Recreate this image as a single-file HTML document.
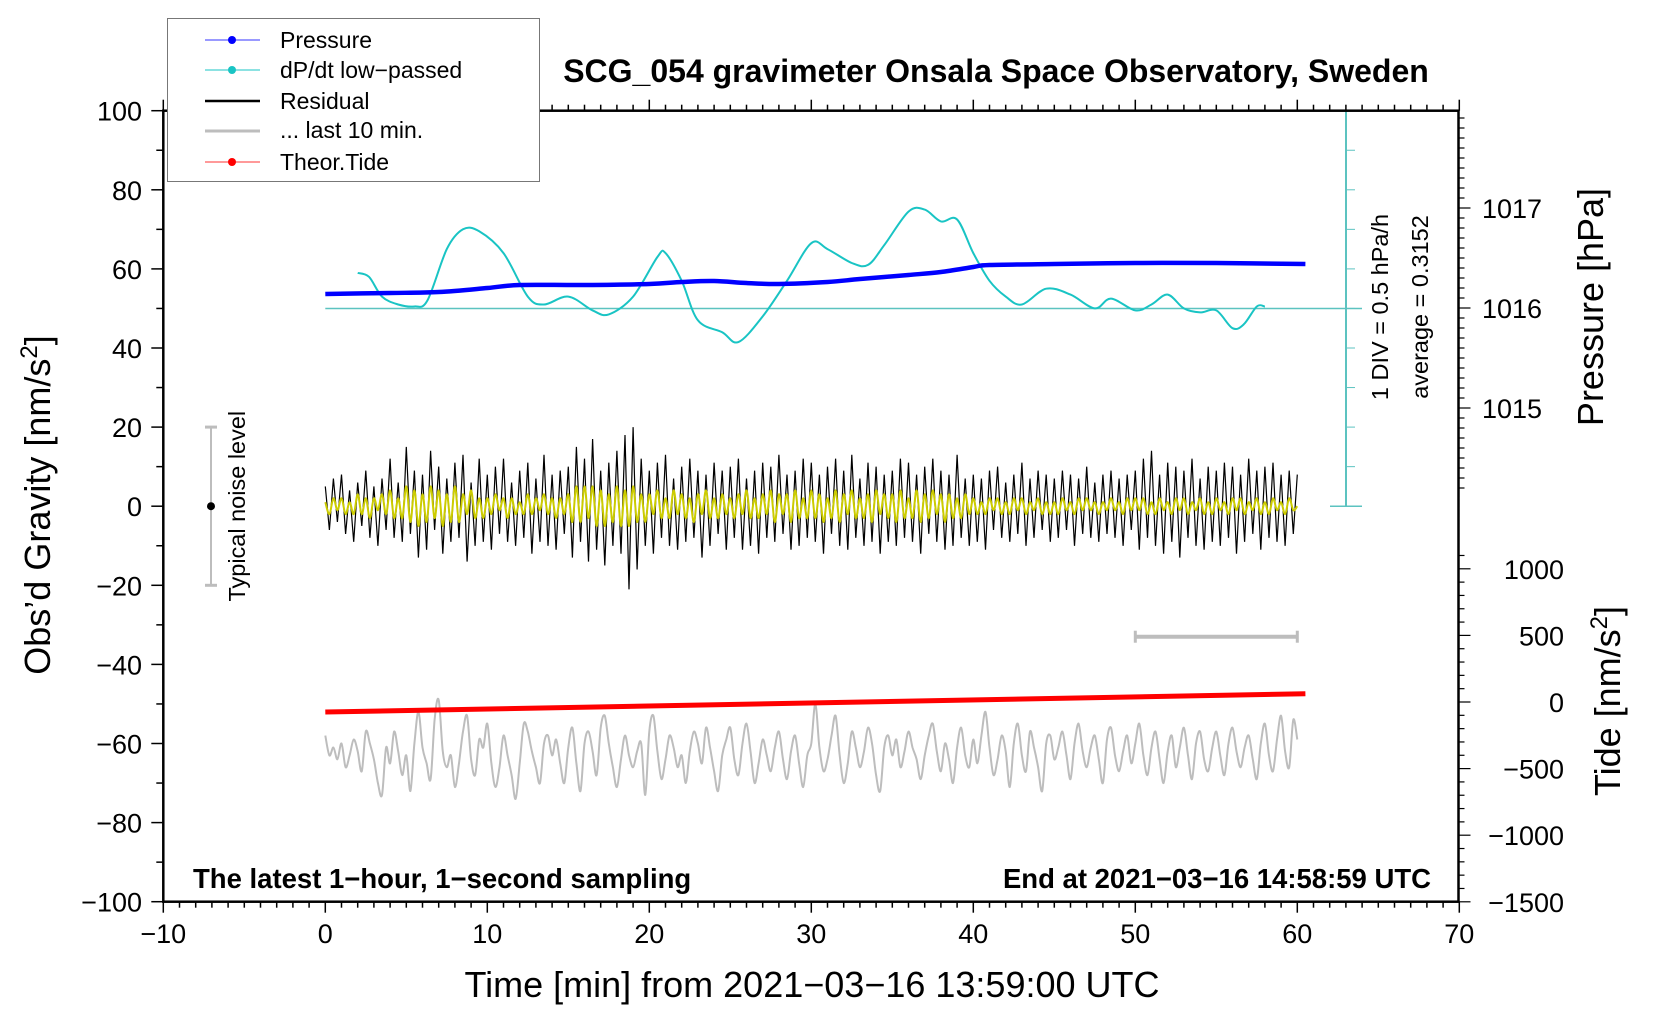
<!DOCTYPE html>
<html><head><meta charset="utf-8"><style>
html,body{margin:0;padding:0;background:#fff;}
svg{display:block;font-family:"Liberation Sans",sans-serif;}
</style></head><body>
<svg id="chart" width="1660" height="1020" viewBox="0 0 1660 1020"></svg>
<script>
// ---- data ----
const pressTimes = [0, 4, 7, 10, 12, 16, 20, 22, 24, 26, 28, 31, 33, 36, 38, 40, 41, 45, 50, 55, 60.5];
const pressHpa = [1016.14, 1016.15, 1016.16, 1016.20, 1016.23, 1016.23, 1016.24, 1016.26, 1016.27, 1016.25, 1016.24, 1016.26, 1016.29, 1016.33, 1016.36, 1016.41, 1016.43, 1016.44, 1016.45, 1016.45, 1016.44];
const dpTimes = [2,2.7,3.5,4.5,5.5,6.3,7.5,8.5,9.5,11,12.5,13.5,15,16.5,17.5,19,20.5,21,22,23,24.5,25.5,27,28.5,30,31,32.5,33.5,34.5,36,37,38,39,40,41,42,43,44.5,46,47.5,48.5,50,51,52,53,54,55,56,56.7,57.5,58];
const dpVals = [59,58,53,51,50.5,52,65,70,69.5,64,53,51,53,49.5,48.5,53,63,64,57,47,44,41.5,48,57,66.5,65,61.5,61,66,74.5,75,72,72.5,64,57,53,51,55,53.5,50,52.5,49.5,51,53.5,50,49,49.5,45,46,50.5,50.5];
const resid = [5,-6,7,-4,8,-7,4,-9,6,-5,9,-8,5,-10,7,-6,12,-8,6,-9,
15,-7,9,-13,8,-11,14,-6,10,-12,7,-9,11,-8,13,-14,6,-10,12,-9,
8,-11,10,-7,12,-9,6,-10,9,-8,11,-12,7,-9,13,-10,8,-11,9,-7,
10,-13,15,-9,12,-14,17,-11,9,-15,11,-10,14,-12,18,-21,20,-16,12,-10,
9,-12,11,-8,13,-10,7,-11,10,-9,12,-8,9,-13,8,-10,11,-7,9,-11,
10,-8,12,-11,7,-10,9,-12,11,-8,10,-9,13,-7,8,-11,9,-10,12,-8,
11,-9,8,-12,10,-7,12,-10,9,-11,13,-8,7,-10,11,-9,10,-12,8,-9,
9,-10,12,-8,11,-9,8,-12,10,-7,12,-9,9,-11,8,-10,13,-8,7,-10,
8,-9,7,-11,9,-6,10,-8,6,-9,8,-7,11,-10,7,-8,9,-6,8,-9,
7,-8,9,-6,8,-10,7,-7,10,-8,6,-9,8,-7,9,-8,7,-10,8,-6,
9,-11,12,-8,14,-10,8,-12,11,-9,10,-13,9,-8,12,-10,7,-11,10,-9,
9,-10,11,-8,10,-12,8,-9,12,-7,9,-11,10,-8,11,-9,8,-10,9,-7,8];
const smooth = [1,-2,2,-1,2,-2,1,-2,3,-2,2,-3,2,-1,3,-2,4,-3,2,-3,
5,-4,4,-5,3,-4,5,-3,4,-5,3,-4,5,-4,3,-2,4,-3,2,-3,
2,-2,3,-1,2,-3,2,-2,1,-2,3,-2,2,-1,3,-2,2,-3,2,-2,
3,-4,5,-4,5,-3,5,-5,4,-5,3,-4,5,-5,4,-5,5,-4,3,-4,
3,-2,4,-3,2,-3,4,-2,3,-3,2,-4,3,-2,4,-3,2,-3,3,-2,
2,-3,3,-2,4,-3,2,-3,3,-2,4,-4,3,-2,3,-4,4,-3,2,-3,
4,-3,3,-4,2,-3,4,-4,3,-2,4,-3,2,-3,3,-4,4,-2,3,-3,
3,-4,4,-3,2,-3,4,-4,3,-3,4,-2,3,-4,3,-3,2,-3,3,-2,
2,-2,1,-2,2,-1,2,-2,1,-2,2,-1,2,-2,1,-1,2,-2,1,-2,
1,-2,2,-1,1,-2,2,-1,2,-1,1,-2,1,-1,2,-1,1,-2,2,-1,
2,-1,2,-2,1,-2,2,-1,1,-2,2,-1,2,-2,1,-1,2,-2,1,-2,
2,-1,1,-2,2,-1,2,-2,1,-1,2,-2,1,-2,2,-1,1,-2,2,-1,0];
const last10 = [-58,-63,-61,-64,-60,-66,-63,-59,-62,-67,-57,-60,-64,-70,-73,-61,-65,-57,-62,-68,
-63,-72,-60,-52,-61,-65,-69,-54,-49,-62,-66,-63,-71,-65,-57,-53,-64,-68,-59,-61,
-55,-65,-71,-66,-58,-63,-68,-74,-65,-55,-57,-62,-66,-70,-60,-58,-63,-59,-65,-70,
-61,-56,-65,-72,-60,-57,-62,-68,-56,-53,-60,-66,-71,-64,-58,-63,-66,-62,-60,-73,
-57,-53,-62,-69,-64,-58,-61,-66,-63,-70,-62,-57,-60,-65,-56,-61,-67,-72,-63,-59,
-56,-64,-68,-60,-55,-62,-70,-65,-59,-63,-67,-61,-57,-64,-69,-62,-58,-65,-71,-63,
-60,-50,-61,-67,-64,-58,-53,-63,-70,-65,-57,-61,-66,-62,-56,-60,-68,-72,-61,-58,
-63,-59,-66,-62,-57,-61,-64,-69,-63,-58,-55,-62,-67,-60,-64,-70,-61,-56,-63,-66,
-59,-65,-58,-52,-61,-68,-64,-58,-62,-71,-60,-55,-63,-67,-57,-61,-66,-72,-60,-58,
-64,-61,-57,-63,-69,-60,-55,-62,-66,-61,-58,-64,-70,-59,-56,-63,-67,-62,-58,-65,
-60,-55,-63,-68,-61,-57,-64,-70,-62,-58,-66,-61,-56,-63,-69,-60,-57,-64,-67,-61,
-57,-63,-68,-60,-56,-62,-66,-61,-58,-64,-69,-60,-55,-63,-67,-59,-53,-62,-66,-54,-59];
const tideTimes = [0, 60.5];
const tideVals = [-75, 62];
const xTicks = [-10,0,10,20,30,40,50,60,70];
const yTicks = [-100,-80,-60,-40,-20,0,20,40,60,80,100];
const pTicks = [1015,1016,1017];
const tTicks = [-1500,-1000,-500,0,500,1000];

// ---- scales ----
const X = t => 325.3 + 16.2 * t;
const Y = v => 506.2 - 3.955 * v;
const P = h => 308 - 100 * (h - 1016);
const T = n => 702 - 0.1332 * n;
const L = 163.3, R = 1458.5, TOP = 110.7, BOT = 901.7;

const svg = document.getElementById('chart');
const NS = 'http://www.w3.org/2000/svg';
function mk(tag, attrs, parent) {
  const e = document.createElementNS(NS, tag);
  for (const k in attrs) e.setAttribute(k, attrs[k]);
  (parent || svg).appendChild(e);
  return e;
}
function txt(s, attrs, parent) { const e = mk('text', attrs, parent); e.textContent = s; return e; }

const gS = mk('g', {});



let e = mk('line', {x1: X(0), x2: 1362, y1: Y(50), y2: Y(50), stroke: '#5cc3c0', 'stroke-width': 1.5}, gS);



e = mk('line', {x1: 1346, x2: 1346, y1: TOP, y2: Y(0), stroke: '#5cc3c0', 'stroke-width': 2}, gS);


[TOP, Y(0)].forEach(y => mk('line', {x1: 1330, x2: 1362, y1: y, y2: y, stroke: '#5cc3c0', 'stroke-width': 1.5}, gS));
for (let v = 10; v < 100; v += 10) mk('line', {x1: 1346, x2: 1355, y1: Y(v), y2: Y(v), stroke: '#5cc3c0', 'stroke-width': 1}, gS);

function pathFrom(xs, ys) { return xs.map((x, i) => (i ? 'L' : 'M') + x.toFixed(1) + ' ' + ys[i].toFixed(1)).join(' '); }
function smoothPath(xs, ys) {
  let d = 'M' + xs[0].toFixed(1) + ' ' + ys[0].toFixed(1);
  for (let i = 0; i < xs.length - 1; i++) {
    const i0 = Math.max(0, i - 1), i3 = Math.min(xs.length - 1, i + 2);
    const c1x = xs[i] + (xs[i + 1] - xs[i0]) / 6, c1y = ys[i] + (ys[i + 1] - ys[i0]) / 6;
    const c2x = xs[i + 1] - (xs[i3] - xs[i]) / 6, c2y = ys[i + 1] - (ys[i3] - ys[i]) / 6;
    d += ` C${c1x.toFixed(1)} ${c1y.toFixed(1)} ${c2x.toFixed(1)} ${c2y.toFixed(1)} ${xs[i + 1].toFixed(1)} ${ys[i + 1].toFixed(1)}`;
  }
  return d;
}
const stepT = i => i * 0.25;

e = mk('path', {d: smoothPath(last10.map((v, i) => X(stepT(i))), last10.map(Y)), fill: 'none', stroke: '#bdbdbd', 'stroke-width': 2}, gS);



e = mk('path', {d: pathFrom(tideTimes.map(X), tideVals.map(T)), fill: 'none', stroke: '#ff0000', 'stroke-width': 5}, gS);



e = mk('path', {d: pathFrom(resid.map((v, i) => X(stepT(i))), resid.map(Y)), fill: 'none', stroke: '#000', 'stroke-width': 1.2}, gS);


e = mk('path', {d: smoothPath(smooth.map((v, i) => X(stepT(i))), smooth.map(Y)), fill: 'none', stroke: '#cccc00', 'stroke-width': 2}, gS);



e = mk('path', {d: smoothPath(dpTimes.map(X), dpVals.map(Y)), fill: 'none', stroke: '#19c4c4', 'stroke-width': 2}, gS);



e = mk('path', {d: smoothPath(pressTimes.map(X), pressHpa.map(P)), fill: 'none', stroke: '#0000ff', 'stroke-width': 4.5}, gS);



e = mk('g', {}, gS);


mk('line', {x1: X(50), x2: X(60), y1: Y(-33), y2: Y(-33), stroke: '#bdbdbd', 'stroke-width': 4}, e);
[50, 60].forEach(t => mk('line', {x1: X(t), x2: X(t), y1: Y(-33) - 6, y2: Y(-33) + 6, stroke: '#bdbdbd', 'stroke-width': 3}, e));

e = mk('g', {});


mk('line', {x1: 211, x2: 211, y1: Y(20), y2: Y(-20), stroke: '#bdbdbd', 'stroke-width': 2}, e);
[20, -20].forEach(v => mk('line', {x1: 205, x2: 217, y1: Y(v), y2: Y(v), stroke: '#bdbdbd', 'stroke-width': 3}, e));
mk('circle', {cx: 211, cy: Y(0), r: 4, fill: '#000'}, e);
e = txt('Typical noise level', {x: 0, y: 0, transform: `translate(245,${Y(0)}) rotate(-90)`, 'text-anchor': 'middle', 'font-size': 23.5});



e = mk('rect', {x: L, y: TOP, width: R - L, height: BOT - TOP, fill: 'none', stroke: '#000', 'stroke-width': 2.5});



const gx = mk('g', {});


for (let t = -10; t <= 70; t++) {
  const maj = t % 10 === 0, len = maj ? 11 : 6;
  mk('line', {x1: X(t), x2: X(t), y1: BOT, y2: BOT + len, stroke: '#000', 'stroke-width': 1.5}, gx);
  mk('line', {x1: X(t), x2: X(t), y1: TOP, y2: TOP - len, stroke: '#000', 'stroke-width': 1.5}, gx);
}
xTicks.forEach(t => {
  const lab = txt(String(t).replace('-', '\u2212'), {x: X(t), y: 943, 'text-anchor': 'middle', 'font-size': 27}, gx);
  
  
});

const gy = mk('g', {});


for (let v = -100; v <= 100; v += 10) {
  const len = v % 20 === 0 ? 12 : 7;
  mk('line', {x1: L - len, x2: L, y1: Y(v), y2: Y(v), stroke: '#000', 'stroke-width': 1.5}, gy);
}
yTicks.forEach(v => {
  const lab = txt(String(v).replace('-', '\u2212'), {x: 142, y: Y(v) + 10, 'text-anchor': 'end', 'font-size': 27}, gy);
  
  
});

const gp = mk('g', {});


for (let k = 0; k <= 38; k++) {
  const h = 1014.2 + k * 0.1, y = P(h);
  if (y < TOP - 1) continue;
  const maj = Math.abs(h - Math.round(h)) < 0.01;
  mk('line', {x1: R, x2: R + (maj ? 12 : 6), y1: y, y2: y, stroke: '#000', 'stroke-width': 1.2}, gp);
}
pTicks.forEach(h => {
  const lab = txt(String(h), {x: 1482, y: P(h) + 10, 'font-size': 27}, gp);
  
  
});

const gt = mk('g', {});


for (let n = -1500; n <= 1100; n += 100) {
  const maj = n % 500 === 0;
  mk('line', {x1: R, x2: R + (maj ? 12 : 6), y1: T(n), y2: T(n), stroke: '#000', 'stroke-width': 1.2}, gt);
}
tTicks.forEach(n => {
  const lab = txt(String(n).replace('-', '\u2212'), {x: 1564, y: T(n) + 10, 'text-anchor': 'end', 'font-size': 27}, gt);
  
  
});
</script>

<script>
(function(){
const svg = document.getElementById('chart');
const NS = 'http://www.w3.org/2000/svg';
function t(s, a, name) {
  const e = document.createElementNS(NS, 'text');
  for (const k in a) e.setAttribute(k, a[k]);
  e.innerHTML = s;
  
  
  svg.appendChild(e);
  return e;
}
t('SCG_054 gravimeter Onsala Space Observatory, Sweden', {x: 996, y: 82, 'text-anchor': 'middle', 'font-size': 32, 'font-weight': 'bold'}, 'chart-title');
t('Obs’d Gravity [nm/s<tspan dy="-13" font-size="24">2</tspan><tspan dy="13">]</tspan>', {transform: 'translate(50,505) rotate(-90)', 'text-anchor': 'middle', 'font-size': 36}, 'y-axis-title');
t('Time [min] from 2021−03−16 13:59:00 UTC', {x: 812, y: 997, 'text-anchor': 'middle', 'font-size': 36}, 'x-axis-title');
t('Pressure [hPa]', {transform: 'translate(1603,307) rotate(-90)', 'text-anchor': 'middle', 'font-size': 36}, 'pressure-axis-title');
t('Tide [nm/s<tspan dy="-13" font-size="24">2</tspan><tspan dy="13">]</tspan>', {transform: 'translate(1620,701) rotate(-90)', 'text-anchor': 'middle', 'font-size': 36}, 'tide-axis-title');
t('1 DIV = 0.5 hPa/h', {transform: 'translate(1388,307) rotate(-90)', 'text-anchor': 'middle', 'font-size': 23.5}, 'dpdt-scale-label');
t('average = 0.3152', {transform: 'translate(1428,307) rotate(-90)', 'text-anchor': 'middle', 'font-size': 23.5}, 'average-label');
t('The latest 1−hour, 1−second sampling', {x: 193, y: 888, 'font-size': 27.5, 'font-weight': 'bold'}, 'sampling-note');
t('End at 2021−03−16 14:58:59 UTC', {x: 1431, y: 888, 'text-anchor': 'end', 'font-size': 27.5, 'font-weight': 'bold'}, 'end-time-note');
})();
</script>

<div style="position:absolute;left:167px;top:18px;width:371px;height:162px;border:1.5px solid #777;background:#fff;font-family:'Liberation Sans',sans-serif;font-size:23px;">
  <svg width="371" height="162" style="position:absolute;left:0;top:0;">
    <g><line x1="37" x2="92" y1="21" y2="21" stroke="#3333ff" stroke-width="1"/><circle cx="64" cy="21" r="4" fill="#0000ff"/><text x="112" y="29">Pressure</text></g>
    <g><line x1="37" x2="92" y1="51" y2="51" stroke="#19c4c4" stroke-width="1"/><circle cx="64" cy="51" r="4" fill="#19c4c4"/><text x="112" y="59">dP/dt low−passed</text></g>
    <g><line x1="37" x2="92" y1="82" y2="82" stroke="#000" stroke-width="2.5"/><text x="112" y="90">Residual</text></g>
    <g><line x1="37" x2="92" y1="112" y2="112" stroke="#bdbdbd" stroke-width="3"/><text x="112" y="119">... last 10 min.</text></g>
    <g><line x1="37" x2="92" y1="143" y2="143" stroke="#ff3333" stroke-width="1"/><circle cx="64" cy="143" r="4" fill="#ff0000"/><text x="112" y="151">Theor.Tide</text></g>
  </svg>
</div>
</body></html>
